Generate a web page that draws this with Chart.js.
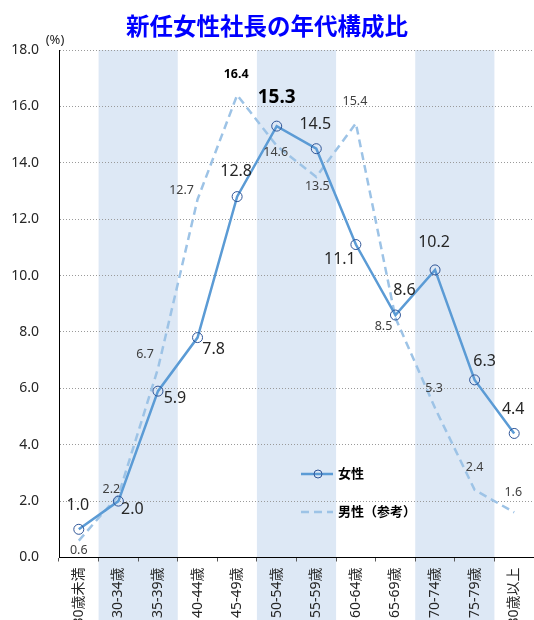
<!DOCTYPE html>
<html lang="ja">
<head>
    <meta charset="UTF-8">
    <title>新任女性社長の年代構成比</title>
    <style>
        html, body {
            margin: 0;
            padding: 0;
            overflow: hidden;
            background: #fff;
        }
        .chart-box {
            width: 540px;
            height: 650px;
        }
    </style>
</head>
<body>
    <div class="chart-box"><canvas id="ageChart"></canvas></div>

    <script src="https://cdn.jsdelivr.net/npm/chart.js"></script>
    <script>
        const categories = ['30歳未満', '30-34歳', '35-39歳', '40-44歳', '45-49歳', '50-54歳',
            '55-59歳', '60-64歳', '65-69歳', '70-74歳', '75-79歳', '80歳以上'];
        const femaleValues = [1.0, 2.0, 5.9, 7.8, 12.8, 15.3, 14.5, 11.1, 8.6, 10.2, 6.3, 4.4];
        const maleValues = [0.6, 2.2, 6.7, 12.7, 16.4, 14.6, 13.5, 15.4, 8.5, 5.3, 2.4, 1.6];
        const shadedBands = [[1, 2], [5, 6], [9, 10]]; // 網掛けする区分(先頭と末尾のindex)

        // ラベルの置き場所 (点からのずらし量 px)
        const femaleLabelOffsets = [[-1, -24], [14, 8], [17, 7], [16, 12], [-1, -25], [0, -29],
            [-1, -24], [-16, 15], [9, -25], [-1, -27], [10, -18], [-1, -24]];
        const maleLabelOffsets = [[0, 10], [-7, -6], [-13, -14], [-16, -9], [-1, -21], [-1, 7],
            [1, 10], [-1, -22], [-12, 9], [-1, -20], [0, -22], [-1, -20]];

        const FONT = "'Noto Sans', 'Noto Sans CJK JP', sans-serif";
        const FEMALE_COLOR = '#5b9bd5';
        const MALE_COLOR = '#9dc3e6';
        const MARKER_COLOR = '#2f5597';
        const BAND_COLOR = '#dde8f5';

        Chart.defaults.font.family = FONT;

        // 背景の網掛け
        const bandPlugin = {
            id: 'bands',
            beforeDraw(chart) {
                const ctx = chart.ctx;
                const x = chart.scales.x;
                const w = x.width / categories.length;
                ctx.save();
                ctx.fillStyle = BAND_COLOR;
                shadedBands.forEach(([a, b]) => {
                    const left = x.getPixelForValue(a) - w / 2;
                    const right = x.getPixelForValue(b) + w / 2;
                    ctx.fillRect(left, chart.chartArea.top, right - left, chart.height - chart.chartArea.top);
                });
                ctx.restore();
            }
        };

        // 数値ラベル・タイトル・凡例
        const decorPlugin = {
            id: 'decor',
            afterDatasetsDraw(chart) {
                const ctx = chart.ctx;
                ctx.save();
                ctx.textAlign = 'center';
                ctx.textBaseline = 'middle';

                const female = chart.getDatasetMeta(0).data;
                female.forEach((pt, i) => {
                    const [dx, dy] = femaleLabelOffsets[i];
                    if (i === 5) {
                        ctx.font = 'bold 19px ' + FONT;
                        ctx.fillStyle = '#000';
                    } else {
                        ctx.font = '16px ' + FONT;
                        ctx.fillStyle = '#262626';
                    }
                    ctx.fillText(femaleValues[i].toFixed(1), pt.x + dx, pt.y + dy);
                });

                const male = chart.getDatasetMeta(1).data;
                male.forEach((pt, i) => {
                    const [dx, dy] = maleLabelOffsets[i];
                    if (i === 4) {
                        ctx.font = 'bold 12.5px ' + FONT;
                        ctx.fillStyle = '#000';
                    } else {
                        ctx.font = '12.5px ' + FONT;
                        ctx.fillStyle = '#404040';
                    }
                    ctx.fillText(maleValues[i].toFixed(1), pt.x + dx, pt.y + dy);
                });

                // タイトル
                ctx.font = 'bold 23.5px ' + FONT;
                ctx.fillStyle = '#0000ff';
                ctx.fillText('新任女性社長の年代構成比', 267, 28);

                // 単位
                ctx.font = '13px ' + FONT;
                ctx.fillStyle = '#262626';
                ctx.fillText('(%)', 55, 40);

                // 凡例
                ctx.lineWidth = 2.5;
                ctx.strokeStyle = FEMALE_COLOR;
                ctx.beginPath();
                ctx.moveTo(301, 474);
                ctx.lineTo(333, 474);
                ctx.stroke();
                ctx.lineWidth = 1;
                ctx.strokeStyle = MARKER_COLOR;
                ctx.beginPath();
                ctx.arc(318, 474, 4, 0, Math.PI * 2);
                ctx.stroke();

                ctx.lineWidth = 2.5;
                ctx.strokeStyle = MALE_COLOR;
                ctx.setLineDash([8, 5]);
                ctx.beginPath();
                ctx.moveTo(301, 512);
                ctx.lineTo(333, 512);
                ctx.stroke();
                ctx.setLineDash([]);

                ctx.textAlign = 'left';
                ctx.font = 'bold 13px ' + FONT;
                ctx.fillStyle = '#000';
                ctx.fillText('女性', 338, 474);
                ctx.fillText('男性（参考）', 338, 512);
                ctx.restore();
            }
        };

        new Chart(document.getElementById('ageChart'), {
            type: 'line',
            data: {
                labels: categories,
                datasets: [
                    {
                        label: '女性',
                        data: femaleValues,
                        borderColor: FEMALE_COLOR,
                        borderWidth: 2.5,
                        tension: 0,
                        pointRadius: 5,
                        pointBorderWidth: 1,
                        pointBorderColor: MARKER_COLOR,
                        pointBackgroundColor: 'rgba(0,0,0,0)',
                        order: 0
                    },
                    {
                        label: '男性（参考）',
                        data: maleValues,
                        borderColor: MALE_COLOR,
                        borderWidth: 2.5,
                        borderDash: [8, 5],
                        tension: 0,
                        pointRadius: 0,
                        order: 1
                    }
                ]
            },
            options: {
                responsive: true,
                maintainAspectRatio: false,
                animation: false,
                events: [],
                layout: {
                    padding: { top: 50, right: 3, left: 0, bottom: 0 }
                },
                plugins: {
                    legend: { display: false },
                    title: { display: false },
                    tooltip: { enabled: false }
                },
                scales: {
                    x: {
                        offset: true,
                        afterFit(scale) { scale.height = 92.5; },
                        grid: {
                            display: true,
                            offset: true,
                            drawOnChartArea: false,
                            drawTicks: true,
                            tickLength: 4,
                            color: '#595959'
                        },
                        border: { display: true, color: '#000', width: 1 },
                        ticks: {
                            autoSkip: false,
                            maxRotation: 90,
                            minRotation: 90,
                            padding: 6,
                            color: '#262626',
                            font: { size: 14 }
                        }
                    },
                    y: {
                        min: 0,
                        max: 18,
                        afterFit(scale) { scale.width = 59; },
                        grid: {
                            drawTicks: false,
                            color: (c) => (c.tick && c.tick.value === 0 ? 'rgba(0,0,0,0)' : '#9a9a9a')
                        },
                        border: { display: true, color: '#000', width: 1, dash: [1, 2] },
                        ticks: {
                            stepSize: 2,
                            padding: 20,
                            color: '#262626',
                            font: { size: 14 },
                            callback: (v) => Number(v).toFixed(1)
                        }
                    }
                }
            },
            plugins: [bandPlugin, decorPlugin]
        });
    </script>
</body>
</html>
